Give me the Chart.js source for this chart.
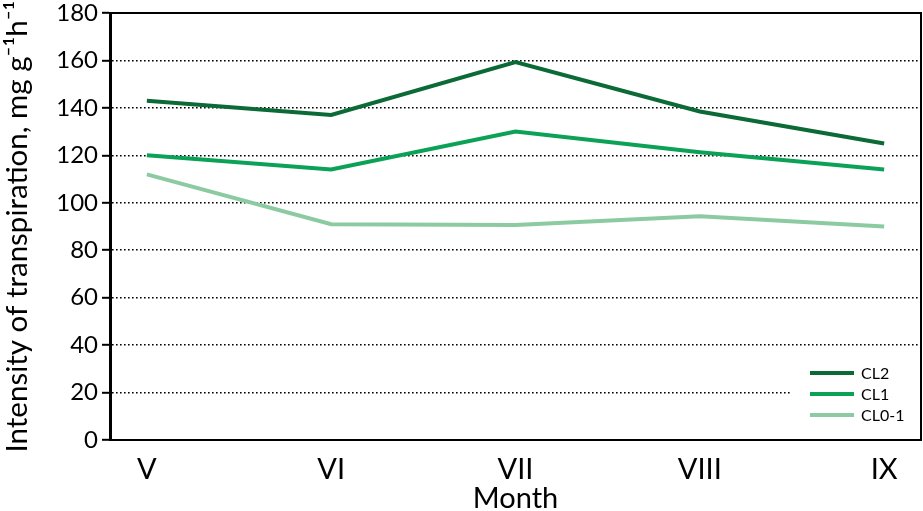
<!DOCTYPE html>
<html>
<head>
<meta charset="utf-8">
<script src="https://cdn.jsdelivr.net/npm/chart.js@4.4.1/dist/chart.umd.min.js"></script>
<style>
  html,body{margin:0;padding:0;background:#fff}
</style>
</head>
<body>
<canvas id="chart" width="923" height="511"></canvas>
<script>
/* data */
const months = ['V','VI','VII','VIII','IX'];
const cl2    = [143, 137, 159.3, 138.5, 125];
const cl1    = [120, 114, 130, 121.3, 114];
const cl01   = [112, 91, 90.6, 94.3, 90];
const seriesNames  = ['CL2','CL1','CL0-1'];
const seriesColors = ['#0b6a36','#0ba257','#8ccba2'];

Chart.defaults.font.family = 'Lato';
Chart.defaults.color = '#000';

const toPts = arr => arr.map((v,i) => ({x:i, y:v}));

/* top + right frame lines */
const frame = {
  id:'frame',
  beforeDatasetsDraw(chart){
    const {ctx, chartArea:a} = chart;
    ctx.save();
    ctx.strokeStyle = '#000';
    ctx.lineWidth = 2;
    ctx.beginPath();
    ctx.moveTo(a.left, a.top); ctx.lineTo(a.right, a.top); ctx.lineTo(a.right, a.bottom);
    ctx.stroke();
    ctx.restore();
  }
};

/* legend box, bottom right inside plot */
const boxLegend = {
  id:'boxLegend',
  afterDatasetsDraw(chart){
    const {ctx, chartArea:a} = chart;
    const x0 = a.right - 131, y0 = a.bottom - 82;
    ctx.save();
    ctx.fillStyle = '#fff';
    ctx.fillRect(x0, y0, a.right - x0 - 1, a.bottom - y0 - 3);
    ctx.font = '16px Lato';
    ctx.textBaseline = 'middle';
    chart.data.datasets.forEach((ds, i) => {
      const y = y0 + 15 + i * 21;
      ctx.strokeStyle = ds.borderColor;
      ctx.lineWidth = 4;
      ctx.beginPath();
      ctx.moveTo(x0 + 20, y); ctx.lineTo(x0 + 64, y);
      ctx.stroke();
      ctx.fillStyle = '#000';
      ctx.fillText(ds.label, x0 + 71, y + 1);
    });
    ctx.restore();
  }
};

new Chart(document.getElementById('chart'), {
  type:'line',
  data:{
    datasets:[cl2, cl1, cl01].map((arr, i) => ({
      label: seriesNames[i],
      data: toPts(arr),
      borderColor: seriesColors[i],
      borderWidth: 4,
      pointRadius: 0,
      tension: 0,
      fill: false
    }))
  },
  options:{
    responsive:false,
    animation:false,
    layout:{ padding:{ top:0, right:2, left:0, bottom:0 } },
    plugins:{ legend:{display:false}, tooltip:{enabled:false} },
    scales:{
      x:{
        type:'linear',
        min:-0.2, max:4.2,
        afterBuildTicks: s => { s.ticks = months.map((m,i) => ({value:i})); },
        afterFit: s => { s.height = 71; },
        ticks:{ callback: v => months[v], font:{size:29}, padding:4, maxRotation:0, autoSkip:false },
        grid:{ display:false },
        border:{ display:true, width:2, color:'#000' },
        title:{ display:true, text:'Month', font:{size:29}, padding:{top:0, bottom:-5} }
      },
      y:{
        min:0, max:180,
        afterFit: s => { s.width = 110; s.paddingTop = 13; },
        ticks:{ stepSize:20, font:{size:24}, padding:4 },
        grid:{
          color: c => (c.tick && (c.tick.value === 180 || c.tick.value === 0)) ? 'rgba(0,0,0,0)' : '#000',
          lineWidth:1.6,
          tickLength:8,
          tickColor:'#000',
          tickWidth:2,
          tickBorderDash:[]
        },
        border:{ display:true, width:3, color:'#000', dash:[1.6,2.4] },
        title:{ display:true, text:'Intensity of transpiration, mg g\u207B\u00B9h\u207B\u00B9', font:{size:29.5}, padding:{top:0, bottom:1} }
      }
    }
  },
  plugins:[frame, boxLegend]
});
</script>
</body>
</html>
